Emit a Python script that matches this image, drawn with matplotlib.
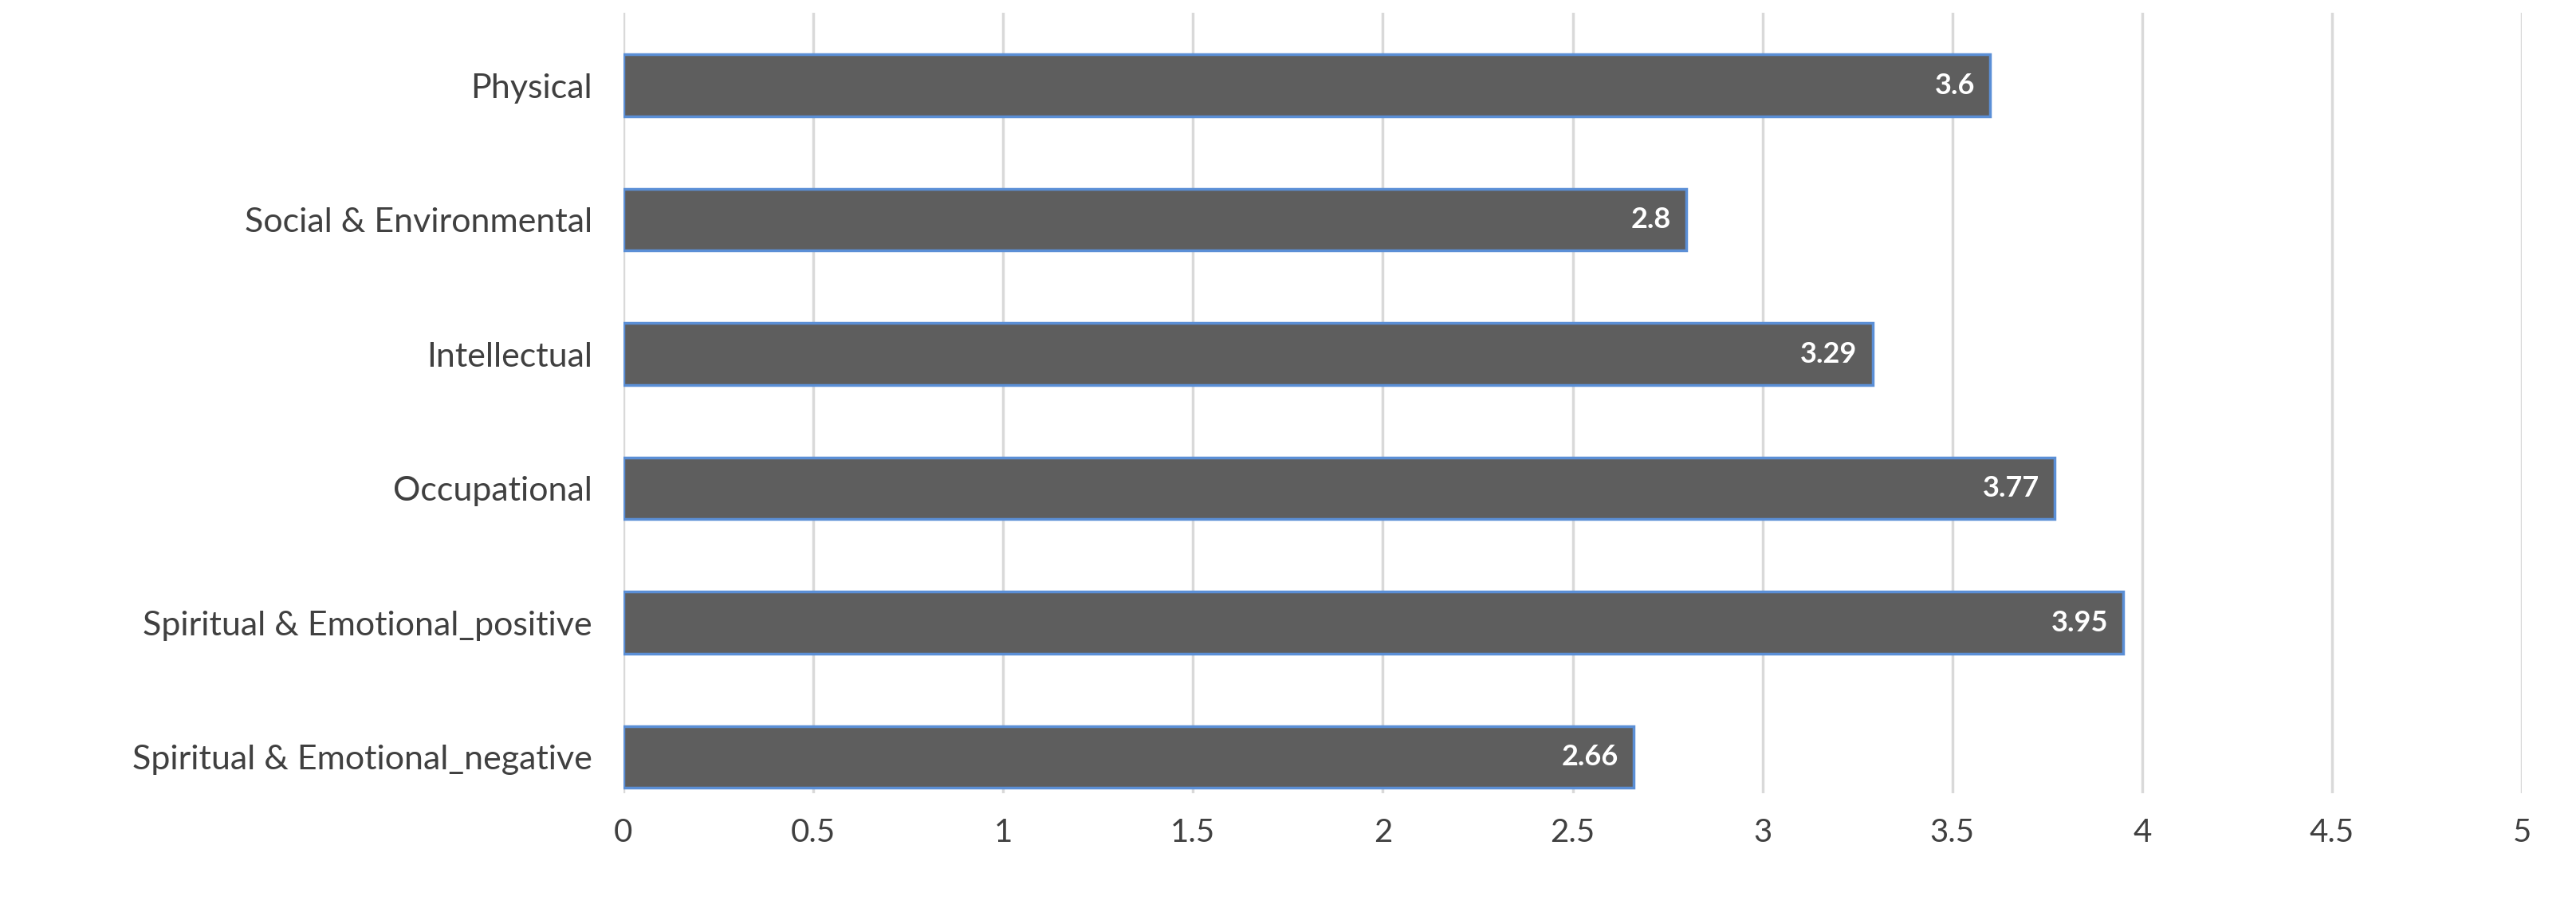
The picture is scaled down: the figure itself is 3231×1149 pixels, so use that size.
import matplotlib
matplotlib.use("Agg")
import matplotlib.pyplot as plt

categories = ["Physical", "Social & Environmental", "Intellectual", "Occupational",
              "Spiritual & Emotional_positive", "Spiritual & Emotional_negative"]
values = [3.6, 2.8, 3.29, 3.77, 3.95, 2.66]
labels = ["3.6", "2.8", "3.29", "3.77", "3.95", "2.66"]
xticks = [0, 0.5, 1, 1.5, 2, 2.5, 3, 3.5, 4, 4.5, 5]

plt.rcParams['font.family'] = ['Lato', 'DejaVu Sans']
fig = plt.figure(figsize=(32.31, 11.49), dpi=100)
ax = fig.add_axes([0.242, 0.134, 0.737, 0.852])
y = list(range(len(categories)))[::-1]
ax.barh(y, values, height=0.46, color="#5e5e5e", edgecolor="#5b8fd6", linewidth=2.5, zorder=3)
for yi, v, l in zip(y, values, labels):
    ax.text(v - 0.04, yi, l, ha="right", va="center", color="white",
            fontsize=26, fontweight="bold", zorder=4)
ax.set_yticks(y)
ax.set_yticklabels(categories, fontsize=31, color="#404040")
ax.set_xticks(xticks)
ax.set_xticklabels([f"{t:g}" for t in xticks], fontsize=29, color="#404040")
ax.set_xlim(0, 5)
ax.set_ylim(-0.27, 5.54)
ax.grid(axis="x", color="#d9d9d9", linewidth=2.5, zorder=0)
for s in ax.spines.values():
    s.set_visible(False)
ax.tick_params(length=0, pad=22)
ax.tick_params(axis="y", pad=28)
fig.savefig("out.png", dpi=100)
